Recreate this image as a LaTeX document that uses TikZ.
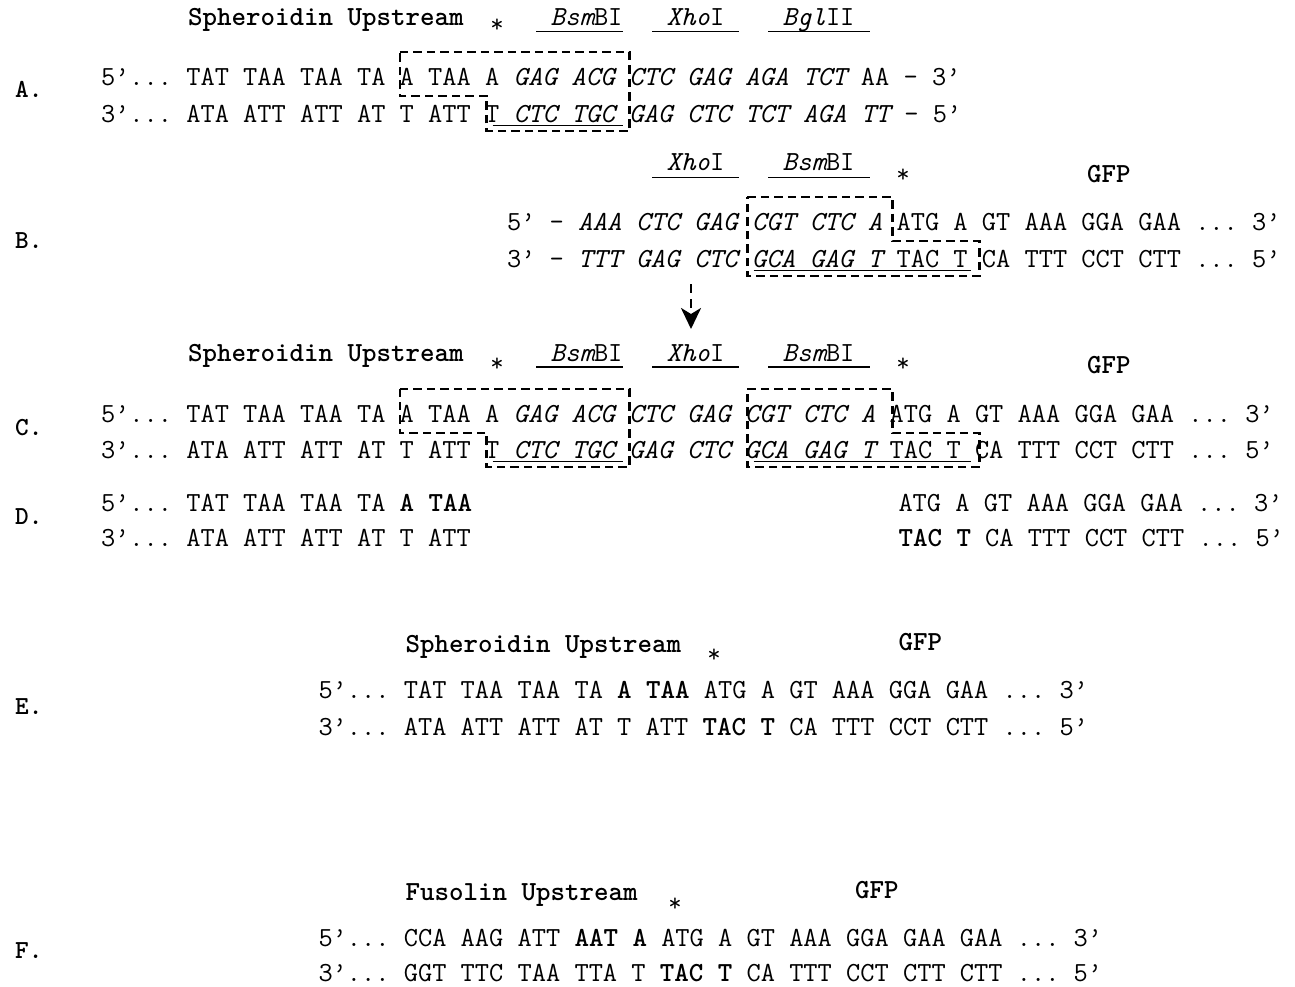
\documentclass[tikz,border=0pt]{standalone}
\usetikzlibrary{arrows.meta}

% monospaced sequence font: one column = 0.525em = 14.5pt
\newcommand\dnafont{\ttfamily\fontsize{27.62}{30}\selectfont\frenchspacing}
\newcommand\slnt[1]{{\itshape #1}}
\newcommand\hvy[1]{{\fontseries{b}\selectfont #1}}
% x position of a sequence column
\newcommand\cx[1]{188+14.5*(#1)}

% left cassette box (spheroidin side): top, step, bottom
\newcommand\leftcut[3]{%
  \draw[cutbox] ({\cx{14.62}},#1) -- ({\cx{30.45}},#1) -- ({\cx{30.45}},#3)
    -- ({\cx{20.6}},#3) -- ({\cx{20.6}},#2) -- ({\cx{14.62}},#2) -- cycle;}
% right cassette box (GFP side): top, step, bottom
\newcommand\rightcut[3]{%
  \draw[cutbox] ({\cx{38.58}},#1) -- ({\cx{48.6}},#1) -- ({\cx{48.6}},#2)
    -- ({\cx{54.6}},#2) -- ({\cx{54.6}},#3) -- ({\cx{38.58}},#3) -- cycle;}

\begin{document}
\begin{tikzpicture}[x=1pt,y=-1pt,
  dna/.style={anchor=base west,inner sep=0pt,outer sep=0pt,font=\dnafont},
  hdr/.style={anchor=base west,inner sep=0pt,outer sep=0pt,font=\dnafont\fontseries{b}\selectfont},
  rowlbl/.style={anchor=base west,inner sep=0pt,font=\ttfamily\fontsize{26}{28}\selectfont\fontseries{b}\selectfont},
  cutmark/.style={anchor=base,inner sep=0pt,font=\ttfamily\fontsize{26}{28}\selectfont},
  site/.style={line width=1.1pt},
  uline/.style={line width=1.3pt},
  cutbox/.style={line width=2.9pt,dash pattern=on 8.5pt off 5pt,line join=miter},
  flow/.style={line width=2.8pt,dash pattern=on 9pt off 6pt,
    -{Stealth[length=21pt,width=20pt,inset=6pt]}}
]
\useasboundingbox (0,0) rectangle (1295,987);

% ---------- row labels ----------
\node[rowlbl] (lA) at (15,98) {A.};
\node[rowlbl] (lB) at (15,248) {B.};
\node[rowlbl] (lC) at (15,435) {C.};
\node[rowlbl] (lD) at (15,524) {D.};
\node[rowlbl] (lE) at (15,714) {E.};
\node[rowlbl] (lF) at (15,958) {F.};

% ---------- A: spheroidin upstream with cloning sites ----------
\node[hdr] (hA) at ({\cx{0}},25.5) {Spheroidin Upstream};
\node[cutmark] (sA) at (497,32.6) {*};
\node[dna] (eA1) at ({\cx{25}},25.5) {\slnt{Bsm}BI};
\node[dna] (eA2) at ({\cx{33}},25.5) {\slnt{Xho}I};
\node[dna] (eA3) at ({\cx{41}},25.5) {\slnt{Bgl}II};
\draw[site] ({\cx{24}},31.5) -- ({\cx{30}},31.5);
\draw[site] ({\cx{32}},31.5) -- ({\cx{38}},31.5);
\draw[site] ({\cx{40}},31.5) -- ({\cx{47}},31.5);

\node[dna] (A5) at ({\cx{-6}},85.5)
  {5’... TAT TAA TAA TA A TAA A \slnt{GAG ACG} \slnt{CTC GAG AGA TCT} AA - 3’};
\node[dna] (A3) at ({\cx{-6}},122.5)
  {3’... ATA ATT ATT AT T ATT T \slnt{CTC TGC} \slnt{GAG CTC TCT AGA TT} - 5’};
\draw[uline] ({\cx{21}},125.5) -- ({\cx{30}},125.5);
\leftcut{52}{96}{131}

% ---------- B: GFP with cloning sites ----------
\node[dna] (eB1) at ({\cx{33}},171) {\slnt{Xho}I};
\node[dna] (eB2) at ({\cx{41}},171) {\slnt{Bsm}BI};
\draw[site] ({\cx{32}},177.5) -- ({\cx{38}},177.5);
\draw[site] ({\cx{40}},177.5) -- ({\cx{47}},177.5);
\node[cutmark] (sB) at (903,182.6) {*};
\node[hdr] (gB) at ({\cx{62}},183) {GFP};

\node[dna] (B5) at ({\cx{22}},230.5)
  {5’ - \slnt{AAA CTC GAG} \slnt{CGT CTC A} ATG A GT AAA GGA GAA ... 3’};
\node[dna] (B3) at ({\cx{22}},267.5)
  {3’ - \slnt{TTT GAG CTC} \slnt{GCA GAG T} TAC T CA TTT CCT CTT ... 5’};
\draw[uline] ({\cx{39}},270.5) -- ({\cx{54}},270.5);
\rightcut{197}{241}{276}

% ---------- ligation step ----------
\coordinate (arrTop) at (691,284);
\coordinate (arrTip) at (691,329);
\draw[flow] (arrTop) -- (arrTip);

% ---------- C: fused construct ----------
\node[hdr] (hC) at ({\cx{0}},361) {Spheroidin Upstream};
\node[cutmark] (sC1) at (497,371.6) {*};
\node[dna] (eC1) at ({\cx{25}},361) {\slnt{Bsm}BI};
\node[dna] (eC2) at ({\cx{33}},361) {\slnt{Xho}I};
\node[dna] (eC3) at ({\cx{41}},361) {\slnt{Bsm}BI};
\draw[site] ({\cx{24}},367) -- ({\cx{30}},367);
\draw[site] ({\cx{32}},367) -- ({\cx{38}},367);
\draw[site] ({\cx{40}},367) -- ({\cx{47}},367);
\node[cutmark] (sC2) at (903,371.6) {*};
\node[hdr] (gC) at ({\cx{62}},373) {GFP};

\node[dna] (C5) at ({\cx{-6}},422.5)
  {5’... TAT TAA TAA TA A TAA A \slnt{GAG ACG} \slnt{CTC GAG} \slnt{CGT CTC A} ATG A GT AAA GGA GAA ... 3’};
\node[dna] (C3) at ({\cx{-6}},458.5)
  {3’... ATA ATT ATT AT T ATT T \slnt{CTC TGC} \slnt{GAG CTC} \slnt{GCA GAG T} TAC T CA TTT CCT CTT ... 5’};
\draw[uline] ({\cx{21}},461.5) -- ({\cx{30}},461.5);
\draw[uline] ({\cx{39}},461.5) -- ({\cx{54}},461.5);
\leftcut{389}{433}{467}
\rightcut{389}{433}{467}

% ---------- D: after BsmBI digestion ----------
\node[dna] (D5l) at ({\cx{-6}},511.5) {5’... TAT TAA TAA TA \hvy{A TAA}};
\node[dna] (D5r) at ({\cx{49}},511.5) {ATG A GT AAA GGA GAA ... 3’};
\node[dna] (D3l) at ({\cx{-6}},546.5) {3’... ATA ATT ATT AT T ATT};
\node[dna] (D3r) at ({\cx{49}},546.5) {\hvy{TAC T} CA TTT CCT CTT ... 5’};

% ---------- E: spheroidin / GFP junction ----------
\node[hdr] (hE) at ({\cx{15}},652) {Spheroidin Upstream};
\node[cutmark] (sE) at (714,662.6) {*};
\node[hdr] (gE) at ({\cx{49}},650) {GFP};
\node[dna] (E5) at ({\cx{9}},698.5)
  {5’... TAT TAA TAA TA \hvy{A TAA} ATG A GT AAA GGA GAA ... 3’};
\node[dna] (E3) at ({\cx{9}},735.5)
  {3’... ATA ATT ATT AT T ATT \hvy{TAC T} CA TTT CCT CTT ... 5’};

% ---------- F: fusolin / GFP junction ----------
\node[hdr] (hF) at ({\cx{15}},900) {Fusolin Upstream};
\node[cutmark] (sF) at (675,911.6) {*};
\node[hdr] (gF) at ({\cx{46}},898) {GFP};
\node[dna] (F5) at ({\cx{9}},946.5)
  {5’... CCA AAG ATT \hvy{AAT A} ATG A GT AAA GGA GAA GAA ... 3’};
\node[dna] (F3) at ({\cx{9}},981.5)
  {3’... GGT TTC TAA TTA T \hvy{TAC T} CA TTT CCT CTT CTT ... 5’};
\end{tikzpicture}
\end{document}
